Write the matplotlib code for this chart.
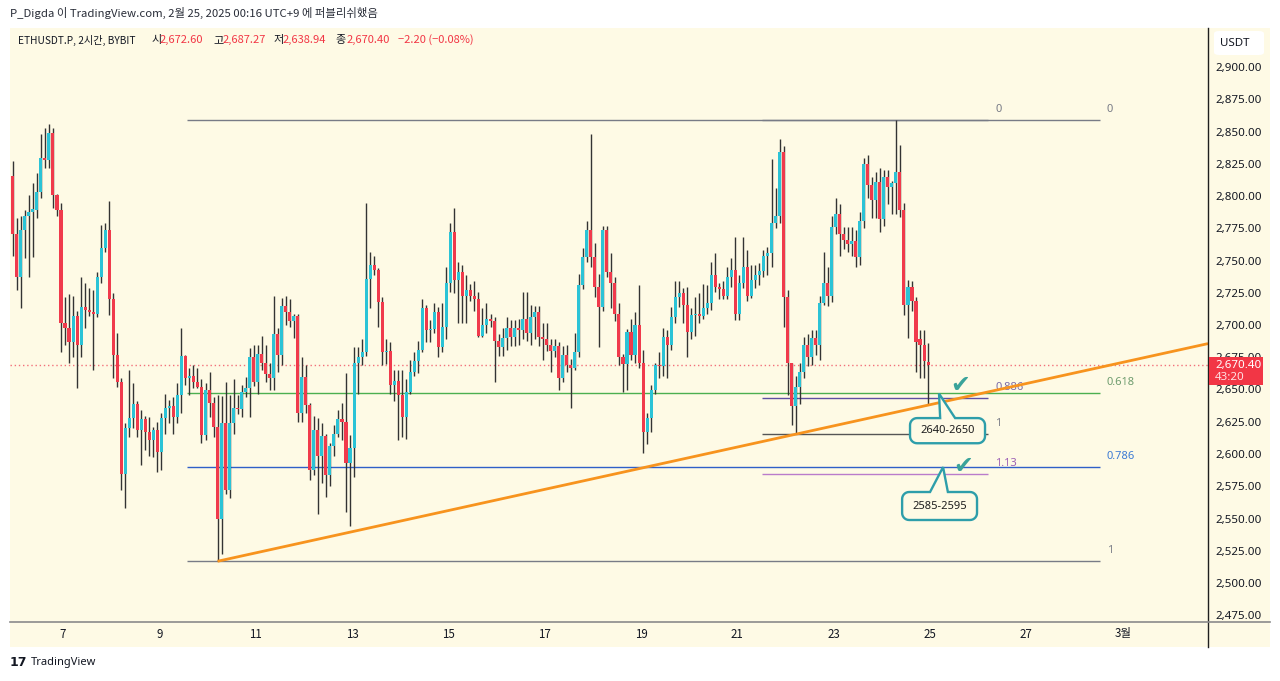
import matplotlib
matplotlib.use('Agg')
import matplotlib.pyplot as plt
from matplotlib.patches import Rectangle, Polygon, FancyBboxPatch
from matplotlib.transforms import blended_transform_factory
import numpy as np

# ---------------- data ----------------
opens = [2817, 2772, 2738, 2775, 2786, 2789, 2790, 2804, 2831, 2829,
         2850, 2802, 2790, 2703, 2699, 2688, 2708, 2686, 2715, 2713,
         2711, 2710, 2738, 2761, 2775, 2721, 2678, 2657, 2586, 2621,
         2629, 2640, 2620, 2628, 2618, 2612, 2620, 2603, 2629, 2637,
         2638, 2630, 2647, 2677, 2660, 2662, 2657, 2653, 2616, 2651,
         2641, 2622, 2551, 2625, 2573, 2625, 2637, 2636, 2649, 2652,
         2676, 2657, 2679, 2672, 2663, 2660, 2694, 2678, 2716, 2711,
         2704, 2708, 2633, 2661, 2639, 2589, 2620, 2600, 2615, 2585,
         2607, 2617, 2628, 2626, 2594, 2606, 2672, 2676, 2680, 2737,
         2748, 2744, 2719, 2680, 2681, 2655, 2658, 2647, 2630, 2649,
         2665, 2673, 2682, 2714, 2697, 2698, 2711, 2684, 2700, 2734,
         2773, 2736, 2742, 2724, 2728, 2724, 2721, 2693, 2701, 2706,
         2704, 2689, 2684, 2691, 2699, 2692, 2699, 2697, 2706, 2695,
         2707, 2711, 2692, 2690, 2686, 2681, 2685, 2660, 2678, 2670,
         2668, 2680, 2732, 2754, 2775, 2754, 2731, 2715, 2775, 2742,
         2734, 2710, 2676, 2671, 2696, 2678, 2701, 2672, 2618, 2629,
         2651, 2670, 2669, 2692, 2686, 2707, 2723, 2726, 2717, 2696,
         2709, 2710, 2708, 2714, 2718, 2740, 2731, 2729, 2724, 2738,
         2744, 2710, 2734, 2746, 2724, 2736, 2740, 2743, 2755, 2757,
         2780, 2786, 2835, 2723, 2672, 2638, 2653, 2665, 2686, 2676,
         2691, 2686, 2718, 2734, 2724, 2777, 2787, 2772, 2767, 2764,
         2766, 2754, 2782, 2826, 2810, 2798, 2812, 2783, 2816, 2808,
         2811, 2820, 2790, 2717, 2731, 2720, 2690, 2686, 2672.60]
highs = [2828, 2784, 2786, 2790, 2802, 2811, 2819, 2849, 2854, 2857,
         2854, 2803, 2796, 2723, 2725, 2724, 2712, 2738, 2734, 2730,
         2728, 2742, 2779, 2780, 2797, 2726, 2695, 2660, 2625, 2666,
         2656, 2642, 2635, 2631, 2630, 2622, 2626, 2633, 2648, 2643,
         2645, 2656, 2699, 2678, 2668, 2670, 2668, 2659, 2656, 2665,
         2645, 2647, 2646, 2657, 2647, 2659, 2647, 2655, 2661, 2683,
         2686, 2686, 2693, 2686, 2672, 2724, 2699, 2722, 2724, 2721,
         2710, 2710, 2676, 2670, 2641, 2631, 2629, 2625, 2617, 2610,
         2624, 2635, 2641, 2664, 2616, 2684, 2684, 2690, 2796, 2758,
         2755, 2745, 2723, 2690, 2688, 2666, 2666, 2666, 2659, 2674,
         2680, 2689, 2721, 2717, 2705, 2718, 2715, 2718, 2746, 2780,
         2792, 2750, 2748, 2740, 2733, 2735, 2727, 2714, 2718, 2710,
         2707, 2694, 2699, 2707, 2705, 2705, 2706, 2727, 2727, 2717,
         2716, 2716, 2703, 2703, 2690, 2690, 2688, 2685, 2686, 2675,
         2695, 2741, 2761, 2782, 2849, 2765, 2741, 2778, 2778, 2757,
         2738, 2718, 2679, 2698, 2706, 2711, 2732, 2682, 2633, 2655,
         2672, 2680, 2699, 2697, 2715, 2735, 2735, 2730, 2731, 2714,
         2723, 2726, 2733, 2732, 2750, 2757, 2734, 2735, 2746, 2753,
         2769, 2740, 2769, 2759, 2748, 2748, 2749, 2759, 2762, 2830,
         2807, 2845, 2840, 2728, 2672, 2662, 2672, 2692, 2694, 2697,
         2697, 2724, 2758, 2746, 2786, 2800, 2795, 2777, 2777, 2777,
         2775, 2789, 2831, 2833, 2816, 2820, 2823, 2821, 2821, 2813,
         2860, 2841, 2796, 2736, 2735, 2723, 2697, 2697, 2687.27]
lows = [2755, 2728, 2714, 2753, 2738, 2754, 2784, 2800, 2823, 2823,
        2792, 2786, 2680, 2686, 2672, 2676, 2652, 2676, 2699, 2708,
        2666, 2707, 2734, 2758, 2709, 2660, 2653, 2573, 2559, 2614,
        2621, 2614, 2593, 2604, 2600, 2599, 2587, 2589, 2617, 2625,
        2617, 2625, 2633, 2655, 2647, 2652, 2652, 2610, 2612, 2630,
        2614, 2518, 2524, 2570, 2567, 2617, 2632, 2630, 2645, 2630,
        2654, 2648, 2666, 2657, 2651, 2651, 2665, 2670, 2701, 2700,
        2691, 2626, 2626, 2633, 2581, 2585, 2555, 2579, 2568, 2576,
        2600, 2614, 2612, 2556, 2545, 2583, 2648, 2670, 2677, 2714,
        2740, 2700, 2670, 2671, 2648, 2642, 2612, 2614, 2613, 2648,
        2662, 2664, 2680, 2688, 2688, 2695, 2676, 2680, 2690, 2727,
        2726, 2703, 2703, 2703, 2720, 2712, 2692, 2692, 2695, 2700,
        2657, 2677, 2677, 2682, 2685, 2685, 2686, 2690, 2689, 2686,
        2690, 2685, 2674, 2681, 2665, 2676, 2651, 2657, 2665, 2637,
        2666, 2676, 2729, 2750, 2746, 2723, 2684, 2712, 2738, 2714,
        2704, 2670, 2649, 2651, 2674, 2672, 2668, 2602, 2609, 2618,
        2648, 2660, 2662, 2660, 2682, 2703, 2715, 2703, 2676, 2690,
        2693, 2703, 2706, 2710, 2713, 2727, 2721, 2721, 2721, 2731,
        2705, 2705, 2730, 2720, 2722, 2730, 2732, 2738, 2740, 2746,
        2776, 2780, 2700, 2647, 2624, 2617, 2640, 2660, 2669, 2670,
        2678, 2674, 2717, 2716, 2719, 2772, 2755, 2760, 2758, 2755,
        2746, 2748, 2776, 2800, 2784, 2784, 2773, 2778, 2795, 2787,
        2787, 2785, 2709, 2691, 2712, 2665, 2660, 2660, 2638.94]
closes = [2772, 2738, 2775, 2786, 2789, 2791, 2804, 2831, 2829, 2850,
          2802, 2790, 2703, 2699, 2688, 2708, 2686, 2715, 2713, 2711,
          2710, 2738, 2761, 2775, 2721, 2678, 2657, 2586, 2621, 2629,
          2640, 2620, 2628, 2618, 2612, 2620, 2603, 2629, 2637, 2638,
          2630, 2647, 2677, 2660, 2662, 2657, 2653, 2616, 2651, 2641,
          2622, 2551, 2625, 2573, 2625, 2637, 2636, 2649, 2652, 2676,
          2657, 2679, 2672, 2663, 2660, 2694, 2678, 2716, 2711, 2704,
          2708, 2633, 2661, 2639, 2589, 2620, 2600, 2615, 2585, 2607,
          2617, 2628, 2626, 2594, 2606, 2672, 2676, 2680, 2737, 2748,
          2744, 2719, 2680, 2681, 2655, 2658, 2647, 2630, 2649, 2665,
          2673, 2682, 2714, 2697, 2698, 2711, 2684, 2700, 2734, 2773,
          2736, 2742, 2724, 2728, 2724, 2721, 2693, 2701, 2706, 2704,
          2689, 2684, 2691, 2699, 2692, 2699, 2697, 2706, 2695, 2707,
          2711, 2692, 2690, 2686, 2681, 2685, 2660, 2678, 2670, 2668,
          2680, 2732, 2754, 2775, 2754, 2731, 2715, 2775, 2742, 2734,
          2710, 2676, 2671, 2696, 2678, 2701, 2672, 2618, 2629, 2651,
          2670, 2669, 2692, 2686, 2707, 2723, 2726, 2717, 2696, 2709,
          2710, 2708, 2714, 2718, 2740, 2731, 2729, 2724, 2738, 2744,
          2710, 2734, 2746, 2724, 2736, 2740, 2743, 2755, 2757, 2780,
          2786, 2835, 2723, 2672, 2638, 2653, 2665, 2686, 2676, 2691,
          2686, 2718, 2734, 2724, 2777, 2787, 2772, 2767, 2764, 2766,
          2754, 2782, 2826, 2810, 2798, 2812, 2783, 2816, 2808, 2811,
          2820, 2790, 2717, 2731, 2720, 2688, 2686, 2673, 2670.40]

last_candle_day = 24 + 23 / 24          # Feb 24, 23:00 (UTC+9)
candle_step = 1 / 12                    # 2-hour candles, in days

date_ticks = [7, 9, 11, 13, 15, 17, 19, 21, 23, 25, 27, 29]
date_labels = ['7', '9', '11', '13', '15', '17', '19', '21', '23', '25', '27', '3월']
price_ticks = [2475, 2500, 2525, 2550, 2575, 2600, 2625, 2650, 2675, 2700,
               2725, 2750, 2775, 2800, 2825, 2850, 2875, 2900]

fib_top = 2860.0
fib_big_bottom = 2518.0
fib_big_levels = [0, 0.618, 0.786, 1]
fib_big_colors = ['#787B86', '#4CAF50', '#2F5FC8', '#787B86']
fib_big_text = ['#787B86', '#6E9C6E', '#3D7BD4', '#787B86']
fib_big_span = (9.574, 28.53)
fib_small_bottom = 2617.0
fib_small_levels = [0, 0.886, 1, 1.13]
fib_small_colors = ['#787B86', '#5E4FA2', '#555555', '#BA7CCB']
fib_small_text = ['#787B86', '#7A6AA8', '#787B86', '#9C5FB5']
fib_small_span = (21.51, 26.20)

trend_p1 = (10.208, 2518.0)
trend_p2 = (22.15, 2616.0)

last_price = 2670.40

# ---------------- figure ----------------
W, H = 1280, 681
fig = plt.figure(figsize=(12.8, 6.81), dpi=100)
fig.patch.set_facecolor('white')
CREAM = '#FEFAE5'

def fx(px):
    return px / W

def fy(py):
    return 1 - py / H

fig.patches.append(Rectangle((fx(10), fy(647)), fx(1270) - fx(10), fy(28) - fy(647),
                             transform=fig.transFigure, facecolor=CREAM, edgecolor='none', zorder=-5))

ax = fig.add_axes([fx(10), fy(622), fx(1208) - fx(10), fy(28) - fy(622)])
ax.set_facecolor(CREAM)
for s in ax.spines.values():
    s.set_visible(False)
ax.set_xticks([])
ax.set_yticks([])
ax.set_xlim(7 + (10 - 63) / 48.17, 7 + (1208 - 63) / 48.17)
ax.set_ylim(2850 - (622 - 133) / 1.29, 2850 + (133 - 28) / 1.29)

n = len(closes)
days = np.array([last_candle_day - (n - 1 - i) * candle_step for i in range(n)])
o = np.array(opens, float); h = np.array(highs, float)
l = np.array(lows, float); c = np.array(closes, float)
up = c >= o
UP, DN = '#2BC3D6', '#F03A4C'
cols = np.where(up, UP, DN)
ax.vlines(days, l, h, color='#333333', lw=1.0, zorder=2)
body_lo = np.minimum(o, c)
body_h = np.maximum(np.abs(c - o), 0.8)
ax.bar(days, body_h, bottom=body_lo, width=0.76 * candle_step, color=cols,
       edgecolor='none', zorder=3)

# current price dotted line
ax.axhline(last_price, color='#F2707A', lw=1.0, ls=(0, (1, 2)), zorder=1)

# fib lines
for lv, lc in zip(fib_big_levels, fib_big_colors):
    p = fib_top - lv * (fib_top - fib_big_bottom)
    ax.hlines(p, fib_big_span[0], fib_big_span[1], color=lc, lw=1.0, zorder=1.5)
for lv, lc in zip(fib_small_levels, fib_small_colors):
    p = fib_top - lv * (fib_top - fib_small_bottom)
    ax.hlines(p, fib_small_span[0], fib_small_span[1], color=lc, lw=1.0, zorder=1.5)

LBL = ['Noto Sans', 'DejaVu Sans']
for lv, tc in zip(fib_big_levels, fib_big_text):
    p = fib_top - lv * (fib_top - fib_big_bottom)
    ax.annotate(f'{lv:g}', (28.67, p), xytext=(0, 5), textcoords='offset pixels',
                ha='left', va='bottom', fontsize=8, color=tc, family=LBL, zorder=6)
for lv, tc in zip(fib_small_levels, fib_small_text):
    p = fib_top - lv * (fib_top - fib_small_bottom)
    ax.annotate(f'{lv:g}', (26.35, p), xytext=(0, 5), textcoords='offset pixels',
                ha='left', va='bottom', fontsize=8, color=tc, family=LBL, zorder=4)

# trend line (ray)
x_end = ax.get_xlim()[1]
slope = (trend_p2[1] - trend_p1[1]) / (trend_p2[0] - trend_p1[0])
ax.plot([trend_p1[0], x_end], [trend_p1[1], trend_p1[1] + slope * (x_end - trend_p1[0])],
        color='#F7931E', lw=2.0, zorder=5, solid_capstyle='butt')

# callouts
TEAL = '#2E9EAA'

def callout(box, tip, base, text):
    T = ax.transData
    (bx0, by0), (bx1, by1) = T.transform([(box[0], box[2]), (box[1], box[3])])
    tx, ty = T.transform(tip)
    b0 = T.transform((base[0], box[3]))[0]
    b1 = T.transform((base[1], box[3]))[0]
    x0, x1 = min(bx0, bx1), max(bx0, bx1)
    y0, y1 = min(by0, by1), max(by0, by1)
    r = 7
    pts = []
    def arc(cx, cy, a0, a1):
        for a in np.linspace(a0, a1, 8):
            pts.append((cx + r * np.cos(a), cy + r * np.sin(a)))
    pts.append((x0 + r, y1))
    pts.append((b0, y1)); pts.append((tx, ty)); pts.append((b1, y1))
    pts.append((x1 - r, y1))
    arc(x1 - r, y1 - r, np.pi / 2, 0)
    arc(x1 - r, y0 + r, 0, -np.pi / 2)
    arc(x0 + r, y0 + r, -np.pi / 2, -np.pi)
    arc(x0 + r, y1 - r, np.pi, np.pi / 2)
    dpts = T.inverted().transform(pts)
    ax.add_patch(Polygon(dpts, closed=True, facecolor=CREAM, edgecolor=TEAL, lw=1.7,
                         zorder=7, clip_on=False))
    ax.text((box[0] + box[1]) / 2, (box[2] + box[3]) / 2, text, ha='center', va='center',
            fontsize=8, color='#1e1e1e', fontweight='bold', family=LBL, zorder=8)

callout((24.584, 26.141, 2609.5, 2629.0), (25.186, 2648.0), (25.21, 25.52), '2640-2650')
callout((24.42, 25.975, 2550.0, 2571.7), (25.27, 2591.0), (25.00, 25.37), '2585-2595')
ax.text(25.62, 2655, '\u2714', color='#3AA39A', fontsize=17, ha='center', va='center',
        family='DejaVu Sans', zorder=8)
ax.text(25.68, 2592, '\u2714', color='#3AA39A', fontsize=17, ha='center', va='center',
        family='DejaVu Sans', zorder=8)

# axis separator lines
fig.add_artist(plt.Line2D([fx(1208), fx(1208)], [fy(28), fy(647)], color='#1f1f1f', lw=1.0,
                          transform=fig.transFigure))
fig.add_artist(plt.Line2D([fx(10), fx(1270)], [fy(622), fy(622)], color='#8a8a8a', lw=1.2,
                          transform=fig.transFigure))

# price axis labels
ytr = blended_transform_factory(fig.transFigure, ax.transData)
for p in price_ticks:
    ax.text(fx(1215), p, f'{p:,.2f}', transform=ytr, ha='left', va='center', fontsize=8.3,
            color='#131722', family=LBL, clip_on=False, zorder=10)
# last price label
lp_y = ax.transData.transform((0, last_price))[1]
fig.patches.append(Rectangle((fx(1209), (lp_y - 20) / H), fx(1263) - fx(1209), 28 / H,
                             transform=fig.transFigure, facecolor='#F23645', edgecolor='none',
                             zorder=20))
fig.text(fx(1215), (lp_y - 1) / H, '2,670.40', ha='left', va='center', fontsize=8.3, color='white',
         family=LBL, zorder=21)
fig.text(fx(1215), (lp_y - 13) / H, '43:20', ha='left', va='center', fontsize=8.3, color='#FFE0E3',
         family=LBL, zorder=21)
# USDT box
fig.patches.append(FancyBboxPatch((fx(1214), fy(55)), fx(1264) - fx(1214), fy(31) - fy(55),
                                  boxstyle='round,pad=0,rounding_size=0.004',
                                  transform=fig.transFigure, facecolor='white', edgecolor='none',
                                  zorder=5))
fig.text(fx(1220), fy(43), 'USDT', ha='left', va='center', fontsize=8.3, color='#131722',
         family=LBL, zorder=6)

# date labels
xtr = blended_transform_factory(ax.transData, fig.transFigure)
KR = ['Noto Sans CJK KR', 'DejaVu Sans']
for d, t in zip(date_ticks, date_labels):
    ax.text(d, fy(634), t, transform=xtr, ha='center', va='center', fontsize=8.3,
            color='#131722', family=KR, clip_on=False)

# header texts
fig.text(fx(10), fy(13), 'P_Digda 이 TradingView.com, 2월 25, 2025 00:16 UTC+9 에 퍼블리쉬했음',
         ha='left', va='center', fontsize=8.2, color='#2a2e39', family=KR)

pieces = [('ETHUSDT.P, 2시간, BYBIT', '#131722', 18, 7.3), ('시', '#131722', 151, 8),
          ('2,672.60', '#F23645', 160, 8), ('고', '#131722', 213, 8), ('2,687.27', '#F23645', 223, 8),
          ('저', '#131722', 273, 8), ('2,638.94', '#F23645', 283, 8), ('종', '#131722', 335, 8),
          ('2,670.40', '#F23645', 347, 8), ('\u22122.20 (\u22120.08%)', '#F23645', 398, 8)]
for txt, col, xp, fs in pieces:
    fig.text(fx(xp), fy(40), txt, ha='left', va='center', fontsize=fs, color=col, family=KR)

# TradingView logo
fig.text(fx(10), fy(663), '17', ha='left', va='center', fontsize=9, fontweight='heavy',
         color='#131722', family='DejaVu Sans')
fig.text(fx(31), fy(663), 'TradingView', ha='left', va='center', fontsize=8, color='#131722',
         family=LBL)

fig.savefig('out.png', dpi=100, facecolor='white')
